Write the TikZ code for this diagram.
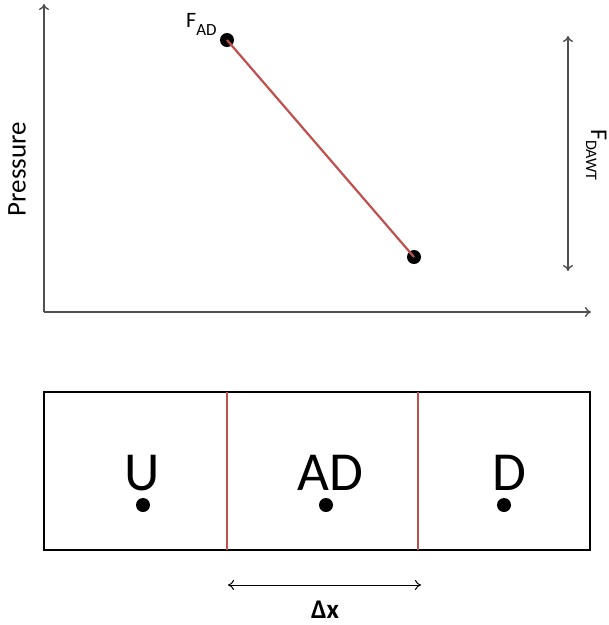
\documentclass[tikz,border=0pt]{standalone}
\usepackage{fontspec}
\setmainfont{Carlito}
\usetikzlibrary{arrows.meta}
\definecolor{offred}{RGB}{192,80,77}
\definecolor{axisgray}{RGB}{80,80,80}
\begin{document}
\begin{tikzpicture}[x=1pt,y=-1pt,
  axis/.style={draw=axisgray,line width=1.4pt,-{To[length=6pt,width=10pt]}},
  dbl/.style={draw=axisgray,line width=1.4pt,{To[length=6pt,width=10pt]}-{To[length=6pt,width=10pt]}},
  redline/.style={draw=offred,line width=2.2pt},
  dot/.style={circle,fill=black,inner sep=0pt,minimum size=14pt},
  big/.style={font=\fontsize{55}{60}\selectfont,inner sep=0pt},
  lab/.style={font=\fontsize{27}{32}\selectfont,inner sep=0pt}]
\useasboundingbox (0,0) rectangle (609,625);
% axes
\coordinate (o) at (44,312);
\coordinate (ytop) at (44,4);
\coordinate (xend) at (591,312);
\draw[axis] (o) -- (ytop);
\draw[axis] (o) -- (xend);
% line
\node[dot] (p1) at (227,40) {};
\node[dot] (p2) at (414,257) {};
\draw[redline] (p1.center) -- (p2.center);
\node[inner sep=0pt,anchor=base west] (fad) at (186,27) {{\fontsize{22}{26}\selectfont F}\raisebox{-8pt}{\fontsize{17}{20}\selectfont AD}};
% vertical double arrow
\coordinate (vt) at (568,36);
\coordinate (vb) at (568,271);
\draw[dbl] (vt) -- (vb);
\node[inner sep=0pt,rotate=-90,anchor=base west] (fdawt) at (591,129) {{\fontsize{24}{30}\selectfont F}\raisebox{-5pt}{\fontsize{16}{18}\selectfont DAWT}};
\node[lab,rotate=90] (press) at (17,169) {Pressure};
% box
\node[draw=black,line width=2.5pt,minimum width=546pt,minimum height=158pt,inner sep=0pt] (box) at (317,471) {};
\coordinate (r1t) at (227,392);
\coordinate (r1b) at (227,550);
\coordinate (r2t) at (418,392);
\coordinate (r2b) at (418,550);
\draw[redline] (r1t) -- (r1b);
\draw[redline] (r2t) -- (r2b);
\node[dot] (du) at (143,505) {};
\node[dot] (dad) at (326,505) {};
\node[dot] (dd) at (504,505) {};
\node[big,anchor=base] (u) at (142,490) {U};
\node[big,anchor=base] (ad) at (330,490) {AD};
\node[big,anchor=base] (d) at (509,490) {D};
% delta x
\coordinate (dxl) at (228,585);
\coordinate (dxr) at (421,585);
\draw[draw=black,line width=1pt,{To[length=6pt,width=10pt]}-{To[length=6pt,width=10pt]}] (dxl) -- (dxr);
\node[lab,anchor=base,font=\fontsize{27}{32}\selectfont\bfseries] (dx) at (325,618) {Δx};
\end{tikzpicture}
\end{document}
